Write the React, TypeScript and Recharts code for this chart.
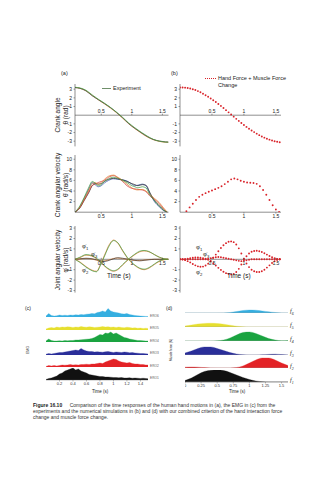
import React from "react";
import { LineChart, Line, AreaChart, Area, XAxis, YAxis, ReferenceLine } from "recharts";

const FONT = "'Liberation Sans', Arial, sans-serif";

// ---- row 1: crank angle (rad) ----
const angleTime = [0.07, 0.15, 0.25, 0.35, 0.45, 0.55, 0.65, 0.75, 0.85, 0.95, 1.05, 1.15, 1.25, 1.35, 1.45, 1.55, 1.6];
const angleGreen = [3.22, 3.15, 2.88, 2.35, 1.85, 1.4, 0.9, 0.35, -0.25, -0.9, -1.45, -1.95, -2.4, -2.78, -3.0, -3.1, -3.12];
const angleOrange = [3.2, 3.1, 2.82, 2.28, 1.78, 1.32, 0.82, 0.28, -0.35, -1.0, -1.55, -2.05, -2.5, -2.82, -3.02, -3.12, -3.12];
const angleDark = [3.18, 3.1, 2.8, 2.25, 1.8, 1.35, 0.88, 0.32, -0.3, -0.98, -1.52, -2.0, -2.45, -2.8, -2.98, -3.08, -3.1];

const simTime = [0, 0.04, 0.08, 0.12, 0.16, 0.2, 0.24, 0.28, 0.32, 0.36, 0.4, 0.44, 0.48, 0.52, 0.56, 0.6, 0.64, 0.68, 0.72, 0.76, 0.8, 0.84, 0.88, 0.92, 0.96, 1.0, 1.04, 1.08, 1.12, 1.16, 1.2, 1.24, 1.28, 1.32, 1.36, 1.4, 1.44, 1.48, 1.52, 1.56];
const angleSim = [3.2, 3.2, 3.18, 3.14, 3.08, 3.0, 2.9, 2.78, 2.64, 2.48, 2.3, 2.12, 1.93, 1.73, 1.52, 1.3, 1.07, 0.83, 0.58, 0.33, 0.08, -0.17, -0.42, -0.66, -0.9, -1.13, -1.35, -1.56, -1.76, -1.95, -2.13, -2.3, -2.45, -2.59, -2.71, -2.82, -2.92, -3.0, -3.07, -3.13];

// ---- row 2: crank angular velocity (rad/s) ----
const velTime = [0.07, 0.15, 0.22, 0.3, 0.35, 0.4, 0.45, 0.5, 0.55, 0.62, 0.7, 0.77, 0.85, 0.92, 1.0, 1.05, 1.1, 1.17, 1.23, 1.3, 1.37, 1.45, 1.52, 1.58];
const velGreen = [0, 1.2, 2.8, 4.8, 5.8, 5.5, 5.0, 5.2, 5.8, 6.3, 6.6, 6.4, 6.0, 5.6, 5.0, 4.8, 4.6, 4.8, 4.6, 3.2, 2.2, 1.2, 0.4, 0];
const velOrange = [0, 1.0, 2.5, 4.3, 5.4, 5.6, 5.3, 5.6, 6.2, 6.8, 7.0, 6.6, 6.0, 5.3, 4.6, 4.3, 4.2, 4.3, 4.0, 3.3, 2.6, 1.8, 0.8, 0];
const velRed = [0, 0.9, 2.3, 4.0, 5.0, 5.3, 5.6, 5.8, 6.0, 6.6, 6.9, 6.5, 5.8, 5.0, 4.5, 4.4, 4.3, 4.2, 3.9, 3.0, 2.4, 1.6, 0.6, 0];
const velBlack = [0, 0.8, 2.2, 3.8, 5.0, 5.4, 5.3, 5.4, 5.8, 6.2, 6.4, 6.3, 6.1, 5.8, 5.4, 5.2, 5.0, 5.2, 5.1, 3.6, 2.2, 1.2, 0.4, 0];
const velBlue = [0, 1.0, 2.6, 4.5, 5.6, 5.2, 4.8, 5.0, 5.5, 6.0, 6.3, 6.2, 6.1, 5.9, 5.3, 5.0, 5.1, 5.3, 5.0, 3.4, 2.0, 1.0, 0.3, 0];

const velSimTime = [0.1, 0.15, 0.2, 0.25, 0.3, 0.35, 0.4, 0.45, 0.5, 0.55, 0.6, 0.65, 0.7, 0.75, 0.8, 0.85, 0.9, 0.95, 1.0, 1.05, 1.1, 1.15, 1.2, 1.25, 1.3, 1.35, 1.4, 1.45, 1.5, 1.55];
const velSim = [0.2, 0.9, 1.6, 2.3, 2.9, 3.3, 3.6, 3.85, 4.1, 4.35, 4.6, 4.9, 5.3, 5.75, 6.2, 6.35, 6.2, 5.95, 5.75, 5.6, 5.55, 5.5, 5.35, 4.9, 4.2, 3.3, 2.3, 1.3, 0.5, 0.05];

// ---- row 3: joint angular velocity (rad/s) ----
const jointTime = [0.07, 0.15, 0.25, 0.35, 0.42, 0.5, 0.56, 0.63, 0.7, 0.77, 0.85, 0.95, 1.05, 1.13, 1.2, 1.28, 1.37, 1.45, 1.53, 1.6];
const phi1Green = [0, 0.2, 0.45, 0.35, 0.1, -0.3, -0.65, -0.95, -1.1, -0.95, -0.5, 0.05, 0.5, 0.78, 0.85, 0.75, 0.45, 0.2, 0.05, 0];
const phi1Orange = [0, 0.15, 0.4, 0.3, 0.05, -0.35, -0.7, -1.0, -1.15, -1.0, -0.55, 0, 0.45, 0.72, 0.8, 0.72, 0.45, 0.2, 0.05, 0];
const phi2Green = [0, -0.3, -0.75, -1.1, -1.2, -0.4, 0.4, 1.3, 1.8, 1.6, 0.85, 0, -0.55, -0.85, -0.95, -0.8, -0.45, -0.15, -0.02, 0];
const phi2Orange = [0, -0.25, -0.7, -1.05, -1.15, -0.3, 0.5, 1.4, 1.85, 1.55, 0.8, -0.05, -0.6, -0.9, -1.0, -0.85, -0.5, -0.2, -0.05, 0];
const phi3Green = [0, 0.05, 0.1, 0.05, -0.05, -0.15, -0.2, -0.1, 0.05, 0.15, 0.1, 0, -0.1, -0.15, -0.1, -0.05, 0, 0, 0, 0];
const phi3Orange = [0, 0.02, 0.08, 0.02, -0.08, -0.18, -0.15, -0.05, 0.08, 0.12, 0.05, -0.02, -0.12, -0.12, -0.08, -0.02, 0, 0, 0, 0];

const phi1Sim = [0, 0, 0.02, 0.05, 0.1, 0.15, 0.18, 0.18, 0.15, 0.1, 0.05, -0.05, -0.2, -0.4, -0.6, -0.82, -1.02, -1.2, -1.33, -1.42, -1.45, -1.4, -1.22, -0.92, -0.5, -0.05, 0.3, 0.55, 0.72, 0.8, 0.82, 0.78, 0.7, 0.58, 0.45, 0.32, 0.2, 0.1, 0.04, 0];
const phi2Sim = [0, -0.02, -0.08, -0.18, -0.3, -0.45, -0.58, -0.68, -0.72, -0.7, -0.6, -0.42, -0.15, 0.15, 0.45, 0.78, 1.08, 1.35, 1.55, 1.68, 1.72, 1.65, 1.42, 1.05, 0.55, 0.05, -0.4, -0.75, -1.0, -1.15, -1.22, -1.22, -1.15, -1.0, -0.8, -0.58, -0.36, -0.18, -0.06, 0];
const phi3Sim = [0, 0, 0, 0, 0, 0, 0, 0, 0, 0, 0, 0.05, 0.1, 0.15, 0.2, 0.22, 0.2, 0.15, 0.1, 0.05, 0, -0.05, -0.1, -0.15, -0.18, -0.15, -0.1, -0.05, 0, 0, 0, 0, 0, 0, 0, 0, 0, 0, 0, 0];

// ---- (c) EMG ----
const emgTime = [0, 0.04, 0.08, 0.12, 0.16, 0.2, 0.24, 0.28, 0.32, 0.36, 0.4, 0.44, 0.48, 0.52, 0.56, 0.6, 0.64, 0.68, 0.72, 0.76, 0.8, 0.84, 0.88, 0.92, 0.96, 1.0, 1.04, 1.08, 1.12, 1.16, 1.2, 1.24, 1.28, 1.32, 1.36, 1.4, 1.44, 1.48, 1.52];
const emg6 = [1, 3.5, 1.5, 1, 1.2, 2, 1.5, 1.8, 1.5, 2, 1.8, 2.2, 2, 2.5, 2.2, 2.8, 3, 3.5, 3.2, 4.5, 5, 6, 5, 8.5, 6, 5, 4.5, 4, 3.2, 3, 3.5, 2.5, 2, 1.5, 1.2, 1, 0.8, 0.6, 0.5];
const emg5 = [1, 2, 2.5, 2, 3, 2.5, 3, 2.8, 3.2, 3, 2.5, 3, 2.8, 3.5, 3, 2.8, 3.2, 3, 2.5, 2.8, 3, 3.5, 3, 3.2, 2.8, 3, 2.5, 3, 2.5, 2.2, 2.8, 2.5, 2, 2.2, 1.8, 2, 1.5, 1.8, 1.5];
const emg4 = [1, 3, 1.5, 1, 1, 1.2, 1, 1.5, 1.2, 1.5, 1.5, 2, 2, 2.2, 2.5, 2.8, 3, 3.5, 4.5, 6, 7.5, 7, 9, 8.5, 10, 8, 9, 7.5, 6, 4.5, 4, 3, 2.5, 2, 1.5, 1.5, 1.2, 1, 1];
const emg3 = [0.8, 1.5, 1, 1.5, 2, 2.5, 2.5, 3, 3.5, 4, 4.5, 5, 4.5, 6.5, 5, 4, 3.5, 3.5, 3, 3.2, 3, 2.8, 3.2, 3.5, 3, 2.5, 3, 2.8, 2.5, 3, 2.8, 2.2, 2.5, 2, 1.8, 1.5, 1.5, 1.2, 1];
const emg2 = [0.5, 1.5, 1, 1.5, 1, 1.5, 2, 1.8, 2, 2.5, 2, 2.2, 2, 2.5, 2.5, 2.8, 2.5, 3, 3, 3.5, 4, 3.5, 5, 6, 7, 8, 7.5, 6, 5, 4.5, 4, 4.5, 3.5, 3, 3, 2.5, 2.5, 2, 2];
const emg1 = [0.5, 1.5, 2, 3, 4, 6, 7, 9, 10, 11, 12, 10, 11, 9, 8, 7, 5.5, 5, 4.5, 4, 3.5, 3.5, 3, 3, 2.8, 2.5, 2.5, 2.2, 2.5, 2, 2, 2.2, 1.8, 2, 1.8, 1.5, 1.8, 1.5, 1.2];
const emgLabels = ["ERO6", "ERO5", "ERO4", "ERO3", "ERO2", "ERO1"];
const emgTicks = [0.2, 0.4, 0.6, 0.8, 1, 1.2, 1.4];

// ---- (d) muscle forces ----
const forceTime = [0, 0.1, 0.2, 0.3, 0.4, 0.5, 0.6, 0.7, 0.8, 0.9, 1.0, 1.1, 1.2, 1.3, 1.4, 1.5, 1.6];
const f6 = [0, 0, 0, 0, 0, 0, 0.1, 0.5, 1.5, 2.5, 3, 2.8, 2, 1.2, 0.5, 0.1, 0];
const f5 = [1, 2, 3, 3.6, 3.8, 3.5, 2.8, 1.8, 0.8, 0.2, 0, 0, 0, 0, 0, 0, 0];
const f4 = [0, 0, 0, 0, 0, 0.2, 1, 3, 6, 8.5, 9, 7.5, 5, 2.5, 1, 0.3, 0.5];
const f3 = [2, 4, 6.5, 8, 8, 6.5, 4.5, 2.5, 1, 0.3, 0, 0, 0.2, 0.6, 0.8, 0.4, 0];
const f2 = [0.8, 1, 0.8, 0.4, 0.1, 0, 0, 0, 0.5, 2, 5, 8, 10, 10, 8, 5, 2.5];
const f1 = [1.5, 4, 7.5, 10.5, 11.8, 12, 11.5, 9.5, 7, 4.5, 2.5, 1, 0.3, 0, 0, 0, 0];
const forceTicks = [0, 0.25, 0.5, 0.75, 1, 1.25, 1.5];

const timeTicks = [0.5, 1, 1.5];

const stripColors = ["#35aee0", "#e6df2e", "#1aa340", "#2a2e99", "#e32226", "#111111"];

const table = (time: number[], cols: Record<string, number[]>) =>
  time.map((t, i) => {
    const row: Record<string, number> = { t };
    Object.keys(cols).forEach((k) => (row[k] = cols[k][i]));
    return row;
  });

function ZeroTick(props: any) {
  const { x, payload, zeroY, below } = props;
  return (
    <g>
      <line x1={x} x2={x} y1={zeroY - 1.5} y2={zeroY} stroke="#333" strokeWidth={0.5} />
      <text x={x} y={below ? zeroY + 6 : zeroY - 2.5} textAnchor="middle" fontSize={5} fill="#222" fontFamily={FONT}>
        {payload.value}
      </text>
    </g>
  );
}

type Series = { key: string; color: string; dotted?: boolean };

function TracePlot(props: {
  left: number; top: number; plotW: number; plotH: number;
  data: any[]; xDomain: number[]; yDomain: number[]; yTicks: number[];
  axis: "bottom" | "zeroAbove" | "zeroBelow"; series: Series[];
}) {
  const { left, top, plotW, plotH, data, xDomain, yDomain, yTicks, axis, series } = props;
  const yW = 14;
  // the zero-line axes still need a non-zero height or recharts drops their ticks
  const xH = axis === "bottom" ? 9 : 1;
  const zeroY = (plotH * yDomain[1]) / (yDomain[1] - yDomain[0]);
  return (
    <div style={{ position: "absolute", left: left - yW, top }}>
      <LineChart width={plotW + yW} height={plotH + xH} data={data} margin={{ top: 0, right: 0, bottom: 0, left: 0 }}>
        <XAxis
          type="number"
          dataKey="t"
          domain={xDomain}
          ticks={timeTicks}
          interval={0}
          height={xH}
          allowDataOverflow
          axisLine={axis === "bottom" ? { stroke: "#444", strokeWidth: 0.6 } : false}
          tickLine={axis === "bottom" ? { stroke: "#444", strokeWidth: 0.5 } : false}
          tickSize={1.5}
          tickMargin={1}
          tick={axis === "bottom" ? { fontSize: 5, fill: "#222", fontFamily: FONT } : <ZeroTick zeroY={zeroY} below={axis === "zeroBelow"} />}
        />
        <YAxis
          type="number"
          domain={yDomain}
          ticks={yTicks}
          interval={0}
          width={yW}
          allowDataOverflow
          axisLine={{ stroke: "#444", strokeWidth: 0.6 }}
          tickLine={{ stroke: "#444", strokeWidth: 0.5 }}
          tickSize={1.5}
          tickMargin={1.5}
          tick={{ fontSize: 5, fill: "#222", fontFamily: FONT }}
        />
        {axis !== "bottom" && <ReferenceLine y={0} stroke="#444" strokeWidth={0.6} />}
        {series.map((s) =>
          s.dotted ? (
            <Line key={s.key} dataKey={s.key} stroke="none" dot={{ r: 0.95, fill: s.color, stroke: "none" }} activeDot={false} isAnimationActive={false} />
          ) : (
            <Line key={s.key} type="monotone" dataKey={s.key} stroke={s.color} strokeWidth={0.7} dot={false} activeDot={false} isAnimationActive={false} />
          )
        )}
      </LineChart>
    </div>
  );
}

function StripPlot(props: {
  left: number; top: number; plotW: number; data: any[]; dataKey: string; color: string;
  xDomain: number[]; smooth?: boolean; ticks?: number[]; baseline?: boolean;
}) {
  const { left, top, plotW, data, dataKey, color, xDomain, smooth, ticks, baseline } = props;
  const plotH = 12;
  const xH = ticks ? 8 : 0;
  return (
    <div style={{ position: "absolute", left, top }}>
      <AreaChart width={plotW} height={plotH + xH} data={data} margin={{ top: 0, right: 0, bottom: 0, left: 0 }}>
        <XAxis
          type="number"
          dataKey="t"
          domain={xDomain}
          ticks={ticks}
          interval={0}
          hide={!ticks}
          height={xH}
          axisLine={{ stroke: "#555", strokeWidth: 0.4 }}
          tickLine={{ stroke: "#555", strokeWidth: 0.4 }}
          tickSize={1.5}
          tickMargin={0.5}
          tick={{ fontSize: 4, fill: "#333", fontFamily: FONT }}
        />
        <YAxis type="number" domain={[0, 12]} hide allowDataOverflow />
        {baseline && <ReferenceLine y={0} stroke="#999" strokeWidth={0.5} />}
        <Area
          type={smooth ? "monotone" : "linear"}
          dataKey={dataKey}
          stroke={color}
          strokeWidth={0.3}
          fill={color}
          fillOpacity={1}
          dot={false}
          activeDot={false}
          isAnimationActive={false}
        />
      </AreaChart>
    </div>
  );
}

function VLabel({ x, y, size, children }: { x: number; y: number; size: number; children: React.ReactNode }) {
  return (
    <div
      style={{
        position: "absolute", left: x, top: y, transform: "translate(-50%, -50%) rotate(-90deg)",
        fontSize: size, lineHeight: `${size * 1.2}px`, whiteSpace: "nowrap", textAlign: "center", color: "#222",
      }}
    >
      {children}
    </div>
  );
}

function Txt({ x, y, size, children, style }: { x: number; y: number; size: number; children: React.ReactNode; style?: React.CSSProperties }) {
  return (
    <div style={{ position: "absolute", left: x, top: y, fontSize: size, lineHeight: 1, whiteSpace: "nowrap", color: "#222", ...style }}>
      {children}
    </div>
  );
}

const Phi = ({ n }: { n: number }) => (
  <span>
    {"φ\u0307"}
    <sub style={{ fontSize: "0.7em" }}>{n}</sub>
  </span>
);

export default function App() {
  const angleExp = table(angleTime, { g: angleGreen, o: angleOrange, d: angleDark });
  const angleSimData = table(simTime, { s: angleSim });
  const velExp = table(velTime, { g: velGreen, o: velOrange, r: velRed, k: velBlack, b: velBlue });
  const velSimData = table(velSimTime, { s: velSim });
  const jointExp = table(jointTime, { a1: phi1Green, b1: phi1Orange, a2: phi2Green, b2: phi2Orange, a3: phi3Green, b3: phi3Orange });
  const jointSimData = table(simTime, { p1: phi1Sim, p2: phi2Sim, p3: phi3Sim });
  const emgData = table(emgTime, { e6: emg6, e5: emg5, e4: emg4, e3: emg3, e2: emg2, e1: emg1 });
  const forceData = table(forceTime, { f6, f5, f4, f3, f2, f1 });

  const red = "#d9232a";
  const expColors = { g: "#3d9a3d", o: "#e07a2a", d: "#3a3a3a", r: "#d33030", k: "#222222", b: "#3250a8" };

  const emgBase = [317, 329.5, 342, 354.5, 367, 379.5];
  const forceBase = [313, 327, 341, 354.5, 368, 381.7];
  const emgKeys = ["e6", "e5", "e4", "e3", "e2", "e1"];
  const forceKeys = ["f6", "f5", "f4", "f3", "f2", "f1"];

  return (
    <div style={{ position: "absolute", left: 0, top: 0, width: 331, height: 480, background: "#fff", fontFamily: FONT, overflow: "hidden" }}>
      <Txt x={61} y={71} size={5.5}>(a)</Txt>
      <Txt x={171} y={71} size={5.5}>(b)</Txt>

      {/* legends */}
      <div style={{ position: "absolute", left: 102, top: 85, display: "flex", alignItems: "center", fontSize: 5.5, color: "#222" }}>
        <span style={{ display: "inline-block", width: 9, height: 0.8, background: "#6f8f6a", marginRight: 2 }} />
        Experiment
      </div>
      <div style={{ position: "absolute", left: 205, top: 75, fontSize: 5.5, lineHeight: "7px", color: "#222" }}>
        <span style={{ display: "inline-block", width: 11, borderTop: `1.6px dotted ${red}`, verticalAlign: "middle", marginRight: 2 }} />
        Hand Force + Muscle Force
        <div style={{ marginLeft: 13 }}>Change</div>
      </div>

      <VLabel x={62} y={115} size={6.5}>Crank angle<br />θ (rad)</VLabel>
      <VLabel x={62} y={185} size={6.5}>Crank angular velocity<br />{"θ\u0307"} (rad/s)</VLabel>
      <VLabel x={62} y={260} size={6.5}>Joint angular velocity<br />{"φ\u0307"} (rad/s)</VLabel>

      {/* row 1 */}
      <TracePlot left={75} top={84} plotW={93.5} plotH={62.4} data={angleExp} xDomain={[0.07, 1.6]} yDomain={[-3.6, 3.6]}
        yTicks={[-3, -2, -1, 1, 2, 3]} axis="zeroAbove"
        series={[{ key: "o", color: expColors.o }, { key: "d", color: expColors.d }, { key: "g", color: expColors.g }]} />
      <TracePlot left={180} top={84} plotW={101} plotH={62.4} data={angleSimData} xDomain={[0, 1.58]} yDomain={[-3.6, 3.6]}
        yTicks={[-3, -2, -1, 1, 2, 3]} axis="zeroAbove" series={[{ key: "s", color: red, dotted: true }]} />

      {/* row 2 */}
      <TracePlot left={75} top={155} plotW={93.5} plotH={57.2} data={velExp} xDomain={[0.07, 1.6]} yDomain={[0, 10.8]}
        yTicks={[2, 4, 6, 8, 10]} axis="bottom"
        series={[{ key: "b", color: expColors.b }, { key: "k", color: expColors.k }, { key: "r", color: expColors.r }, { key: "o", color: expColors.o }, { key: "g", color: expColors.g }]} />
      <TracePlot left={180} top={155} plotW={101} plotH={57.2} data={velSimData} xDomain={[0, 1.58]} yDomain={[0, 10.8]}
        yTicks={[2, 4, 6, 8, 10]} axis="bottom" series={[{ key: "s", color: red, dotted: true }]} />

      {/* row 3 */}
      <TracePlot left={75} top={226} plotW={93.5} plotH={66.6} data={jointExp} xDomain={[0.07, 1.6]} yDomain={[-3.2, 3.2]}
        yTicks={[-3, -2, -1, 1, 2, 3]} axis="zeroBelow"
        series={[
          { key: "b3", color: expColors.o }, { key: "a3", color: expColors.d },
          { key: "b1", color: expColors.o }, { key: "a1", color: expColors.g },
          { key: "b2", color: expColors.o }, { key: "a2", color: expColors.g },
        ]} />
      <TracePlot left={180} top={226} plotW={101} plotH={66.6} data={jointSimData} xDomain={[0, 1.58]} yDomain={[-3.2, 3.2]}
        yTicks={[-3, -2, -1, 1, 2, 3]} axis="zeroBelow"
        series={[{ key: "p3", color: red, dotted: true }, { key: "p1", color: red, dotted: true }, { key: "p2", color: red, dotted: true }]} />

      <Txt x={82} y={243} size={6}><Phi n={1} /></Txt>
      <Txt x={91} y={251} size={6}><Phi n={3} /></Txt>
      <Txt x={82} y={267} size={6}><Phi n={2} /></Txt>
      <Txt x={107} y={273} size={6.5}>Time (s)</Txt>
      <Txt x={196} y={244} size={6}><Phi n={1} /></Txt>
      <Txt x={203} y={251} size={6}><Phi n={3} /></Txt>
      <Txt x={196} y={269} size={6}><Phi n={2} /></Txt>
      <Txt x={227} y={273} size={6.5}>Time (s)</Txt>

      {/* (c) EMG */}
      <Txt x={25} y={306} size={5}>(c)</Txt>
      <VLabel x={28} y={350} size={3.5}>EMG</VLabel>
      {emgKeys.map((k, i) => (
        <StripPlot key={k} left={45.5} top={emgBase[i] - 12} plotW={102.5} data={emgData} dataKey={k} color={stripColors[i]}
          xDomain={[0, 1.52]} ticks={i === 5 ? emgTicks : undefined} />
      ))}
      {emgLabels.map((l, i) => (
        <Txt key={l} x={150} y={emgBase[i] - 2.5} size={3.2} style={{ color: "#555" }}>{l}</Txt>
      ))}
      <Txt x={92} y={390} size={4.5}>Time (s)</Txt>

      {/* (d) muscle force */}
      <Txt x={166} y={306} size={5}>(d)</Txt>
      <VLabel x={172} y={350} size={3}>Muscle force (N)</VLabel>
      {forceKeys.map((k, i) => (
        <StripPlot key={k} left={185} top={forceBase[i] - 12} plotW={103} data={forceData} dataKey={k} color={stripColors[i]}
          xDomain={[0, 1.6]} smooth baseline ticks={i === 5 ? forceTicks : undefined} />
      ))}
      {forceKeys.map((k, i) => (
        <Txt key={k} x={290} y={forceBase[i] - 5} size={6} style={{ fontFamily: "'Liberation Serif', serif", fontStyle: "italic" }}>
          f<sub style={{ fontSize: "0.65em" }}>{6 - i}</sub>
        </Txt>
      ))}
      <Txt x={229} y={390} size={4.5}>Time (s)</Txt>

      {/* caption */}
      <div style={{ position: "absolute", left: 33, top: 401.5, fontSize: 5, lineHeight: "6px", color: "#333", whiteSpace: "nowrap" }}>
        <div><b style={{ color: "#222" }}>Figure 16.10</b>{"\u2003\u2002"}Comparison of the time responses of the human hand motions in (a), the EMG in (c) from the</div>
        <div>experiments and the numerical simulations in (b) and (d) with our combined criterion of the hand interaction force</div>
        <div>change and muscle force change.</div>
      </div>
    </div>
  );
}
